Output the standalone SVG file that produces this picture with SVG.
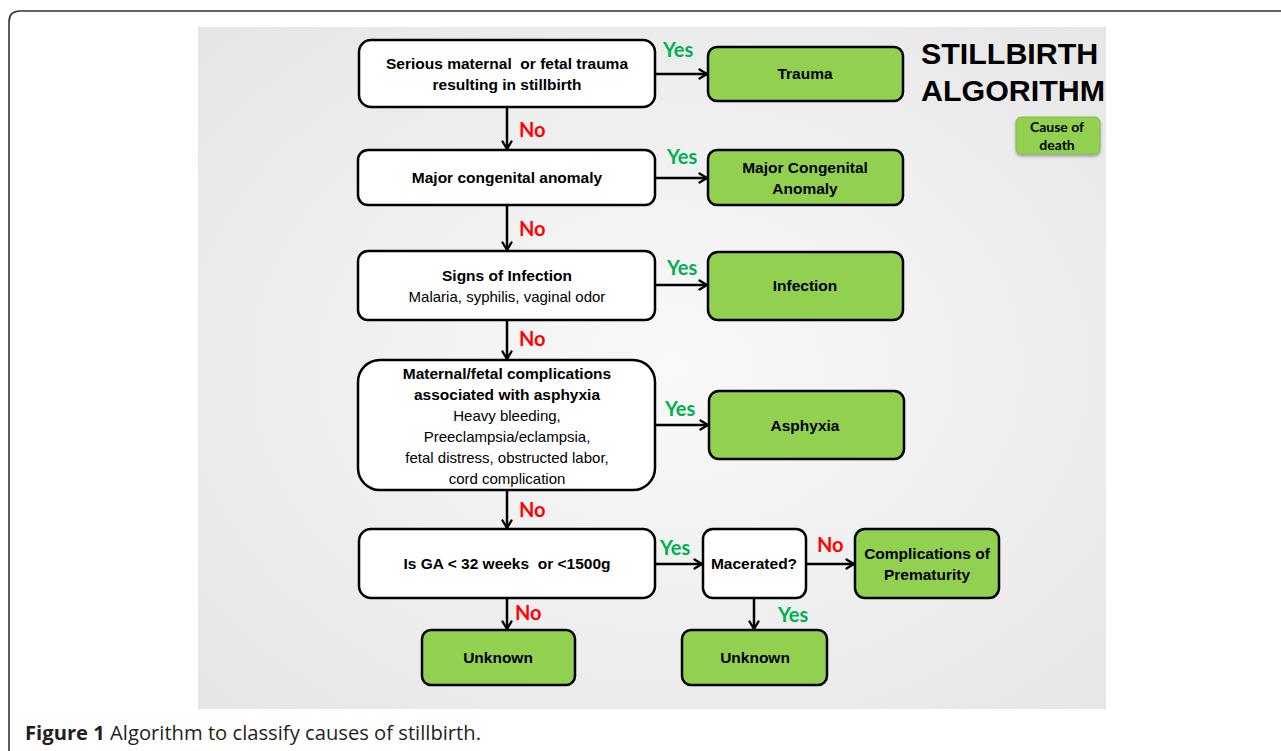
<svg xmlns="http://www.w3.org/2000/svg" width="1281" height="751" viewBox="0 0 1281 751">
<defs>
<radialGradient id="bg" cx="0.52" cy="0.5" r="0.7">
<stop offset="0" stop-color="#f9f9f9"/>
<stop offset="1" stop-color="#e6e6e6"/>
</radialGradient>
<marker id="ah" viewBox="0 0 12 12" refX="10.5" refY="6" markerWidth="12" markerHeight="12" markerUnits="userSpaceOnUse" orient="auto">
<path d="M3,1.5 L10.5,6 L3,10.5" fill="none" stroke="#000" stroke-width="2.3" stroke-linecap="round" stroke-linejoin="round"/>
</marker>
<filter id="sh" x="-20%" y="-20%" width="140%" height="150%">
<feDropShadow dx="0" dy="2" stdDeviation="1.5" flood-color="#000" flood-opacity="0.35"/>
</filter>
<style>
.q{fill:#fff;stroke:#000;stroke-width:2.5}
.r{fill:#92d050;stroke:#000;stroke-width:2.5}
.t{font-family:"Liberation Sans",Arial,sans-serif;font-size:15.5px;font-weight:bold;fill:#000;text-anchor:middle;white-space:pre}
.n{font-family:"Liberation Sans",Arial,sans-serif;font-size:15px;fill:#000;text-anchor:middle}
.yes{font-family:Lato,"Open Sans",sans-serif;font-size:20px;font-weight:bold;fill:#00b050}
.no{font-family:Lato,"Open Sans",sans-serif;font-size:20px;font-weight:bold;fill:#ff0000}
.c{fill:none;stroke:#000;stroke-width:2.5;marker-end:url(#ah)}
</style>
</defs>
<rect x="0" y="0" width="1281" height="751" fill="#fff"/>
<path d="M1290,11 L20,11 Q9,11 9,22 L9,760" fill="none" stroke="#333" stroke-width="1.6"/>
<rect x="198" y="27" width="908" height="682" fill="url(#bg)"/>

<g id="title">
<text x="921" y="64" font-family="'Liberation Sans',Arial,sans-serif" font-size="30.4" font-weight="bold" fill="#000">STILLBIRTH</text>
<text x="921" y="101" font-family="'Liberation Sans',Arial,sans-serif" font-size="30.4" font-weight="bold" fill="#000">ALGORITHM</text>
</g>
<g id="legend">
<rect x="1016" y="117" width="84" height="37" rx="5" fill="#92d050" stroke="#7ab640" stroke-width="0.8" filter="url(#sh)"/>
<text x="1057" y="132" font-family="Lato,'Open Sans',sans-serif" font-size="14" font-weight="bold" text-anchor="middle" fill="#000">Cause of</text>
<text x="1057" y="150" font-family="Lato,'Open Sans',sans-serif" font-size="14" font-weight="bold" text-anchor="middle" fill="#000">death</text>
</g>

<g id="connectors">
<line class="c" x1="655" y1="74" x2="707" y2="74"/>
<line class="c" x1="507" y1="107" x2="507" y2="149"/>
<line class="c" x1="655" y1="178" x2="707" y2="178"/>
<line class="c" x1="507" y1="205" x2="507" y2="250"/>
<line class="c" x1="655" y1="285" x2="707" y2="285"/>
<line class="c" x1="507" y1="320" x2="507" y2="359"/>
<line class="c" x1="655" y1="425" x2="708" y2="425"/>
<line class="c" x1="507" y1="490" x2="507" y2="528"/>
<line class="c" x1="655" y1="564" x2="702" y2="564"/>
<line class="c" x1="806" y1="564" x2="854" y2="564"/>
<line class="c" x1="507" y1="598" x2="507" y2="629"/>
<line class="c" x1="754" y1="598" x2="754" y2="629"/>
<text class="yes" x="663" y="57">Yes</text>
<text class="no" x="519" y="137">No</text>
<text class="yes" x="667" y="164">Yes</text>
<text class="no" x="519" y="236">No</text>
<text class="yes" x="667" y="275">Yes</text>
<text class="no" x="519" y="346">No</text>
<text class="yes" x="665" y="416">Yes</text>
<text class="no" x="519" y="517">No</text>
<text class="yes" x="660" y="555">Yes</text>
<text class="no" x="817" y="552">No</text>
<text class="no" x="515" y="620">No</text>
<text class="yes" x="778" y="622">Yes</text>
</g>

<g id="q-trauma">
<rect class="q" x="359" y="40" width="296" height="67" rx="12"/>
<text class="t" x="507" y="69">Serious maternal  or fetal trauma</text>
<text class="t" x="507" y="90">resulting in stillbirth</text>
</g>
<g id="r-trauma">
<rect class="r" x="708" y="47" width="195" height="54" rx="9"/>
<text class="t" x="805" y="79">Trauma</text>
</g>

<g id="q-anomaly">
<rect class="q" x="358" y="150" width="297" height="55" rx="10"/>
<text class="t" x="507" y="183">Major congenital anomaly</text>
</g>
<g id="r-anomaly">
<rect class="r" x="708" y="150" width="195" height="55" rx="9"/>
<text class="t" x="805" y="173">Major Congenital</text>
<text class="t" x="805" y="194">Anomaly</text>
</g>

<g id="q-infection">
<rect class="q" x="358" y="251" width="297" height="69" rx="10"/>
<text class="t" x="507" y="281">Signs of Infection</text>
<text class="n" x="507" y="302">Malaria, syphilis, vaginal odor</text>
</g>
<g id="r-infection">
<rect class="r" x="708" y="252" width="195" height="68" rx="10"/>
<text class="t" x="805" y="291">Infection</text>
</g>

<g id="q-asphyxia">
<rect class="q" x="358" y="360" width="297" height="130" rx="22"/>
<text class="t" x="507" y="379">Maternal/fetal complications</text>
<text class="t" x="507" y="400">associated with asphyxia</text>
<text class="n" x="507" y="421">Heavy bleeding,</text>
<text class="n" x="507" y="442">Preeclampsia/eclampsia,</text>
<text class="n" x="507" y="463">fetal distress, obstructed labor,</text>
<text class="n" x="507" y="484">cord complication</text>
</g>
<g id="r-asphyxia">
<rect class="r" x="709" y="391" width="195" height="68" rx="10"/>
<text class="t" x="805" y="431">Asphyxia</text>
</g>

<g id="q-ga">
<rect class="q" x="359" y="529" width="296" height="69" rx="12"/>
<text class="t" x="507" y="569">Is GA &lt; 32 weeks  or &lt;1500g</text>
</g>
<g id="q-macerated">
<rect class="q" x="703" y="529" width="103" height="69" rx="10"/>
<text class="t" x="754" y="569">Macerated?</text>
</g>
<g id="r-prematurity">
<rect class="r" x="855" y="529" width="144" height="69" rx="10"/>
<text class="t" x="927" y="559">Complications of</text>
<text class="t" x="927" y="580">Prematurity</text>
</g>
<g id="r-unknown-left">
<rect class="r" x="422" y="630" width="153" height="55" rx="9"/>
<text class="t" x="498" y="663">Unknown</text>
</g>
<g id="r-unknown-right">
<rect class="r" x="682" y="630" width="145" height="55" rx="9"/>
<text class="t" x="755" y="663">Unknown</text>
</g>

<g id="caption">
<text x="25" y="740" font-family="'Open Sans',Lato,sans-serif" font-size="20" fill="#231f20" textLength="456" lengthAdjust="spacingAndGlyphs"><tspan font-weight="bold">Figure 1</tspan> Algorithm to classify causes of stillbirth.</text>
</g>
</svg>
